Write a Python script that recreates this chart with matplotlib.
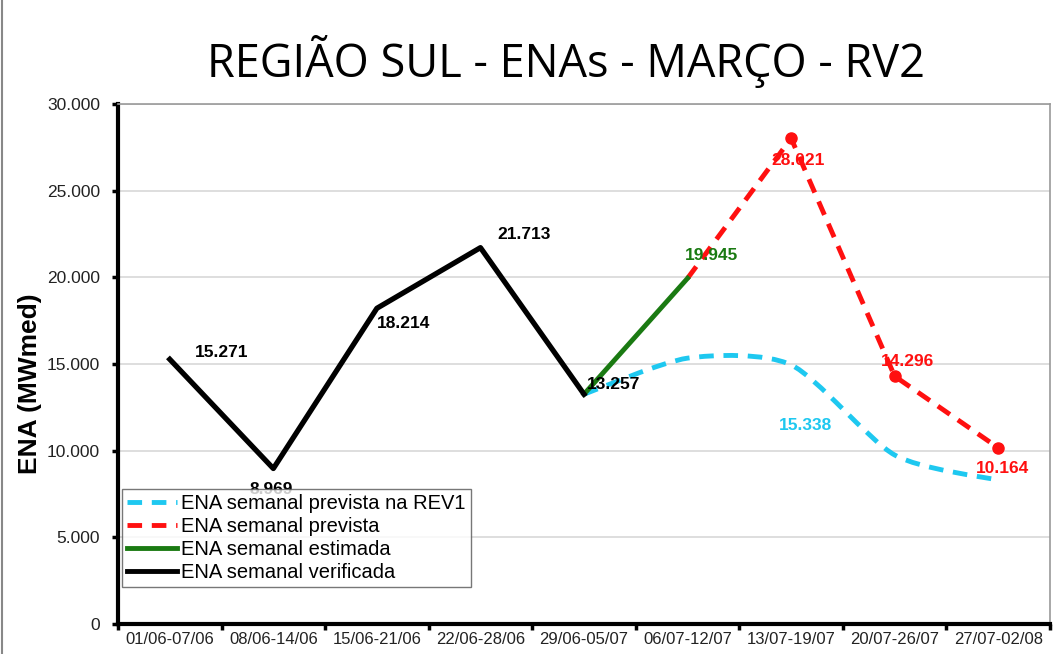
import numpy as np
import matplotlib
matplotlib.use("Agg")
import matplotlib.pyplot as plt
from matplotlib.path import Path
from matplotlib.patches import PathPatch
from matplotlib.lines import Line2D
from matplotlib.ticker import FuncFormatter

weeks = ["01/06-07/06", "08/06-14/06", "15/06-21/06", "22/06-28/06", "29/06-05/07",
         "06/07-12/07", "13/07-19/07", "20/07-26/07", "27/07-02/08"]

# verified (black), estimated (green), forecast (red), REV1 forecast (cyan)
verificada = [15271, 8969, 18214, 21713, 13257]
estimada = [13257, 19945]
prevista = [19945, 28021, 14296, 10164]
prevista_rev1 = [13257, 15338, 14950, 9750, 8300]

title = "REGIÃO SUL - ENAs - MARÇO - RV2"
ylabel = "ENA (MWmed)"

plt.rcParams['font.family'] = ['Liberation Sans', 'DejaVu Sans']

fig = plt.figure(figsize=(10.54, 6.54), dpi=100)
ax = fig.add_axes([118 / 1054, 30 / 654, 932 / 1054, 520 / 654])

x = np.arange(len(weeks))
x_ver = x[:5]
x_est = x[4:6]
x_prev = x[5:9]
x_rev1 = x[4:9]


def smooth_path(xs, ys, k=8.0):
    # Excel-like smoothed line: cubic bezier through the points
    pts = list(zip(xs, ys))
    verts = [pts[0]]
    codes = [Path.MOVETO]
    n = len(pts)
    for i in range(n - 1):
        p0 = pts[i - 1] if i > 0 else pts[i]
        p1 = pts[i]
        p2 = pts[i + 1]
        p3 = pts[i + 2] if i + 2 < n else pts[i + 1]
        c1 = (p1[0] + (p2[0] - p0[0]) / k, p1[1] + (p2[1] - p0[1]) / k)
        c2 = (p2[0] - (p3[0] - p1[0]) / k, p2[1] - (p3[1] - p1[1]) / k)
        verts += [c1, c2, p2]
        codes += [Path.CURVE4] * 3
    return Path(verts, codes)


cyan = "#1ec8f0"
red = "#ff1010"
green = "#1a7a12"

ax.add_patch(PathPatch(smooth_path(x_rev1, prevista_rev1), fill=False, edgecolor=cyan,
                       lw=3.5, linestyle=(0, (3, 2)), capstyle='butt', zorder=3))
ax.plot(x_prev, prevista, color=red, lw=3.5, linestyle=(0, (3, 2)), zorder=4)
ax.plot(x_prev[1:], prevista[1:], 'o', color=red, ms=8, zorder=5)
ax.plot(x_est, estimada, color=green, lw=3.5, zorder=4)
ax.plot(x_ver, verificada, color='black', lw=3.8, zorder=4)


def fmt(v):
    return f"{v:,}".replace(",", ".")


lab = dict(fontsize=12.5, fontweight='bold', zorder=6)
ax.annotate(fmt(verificada[0]), (x_ver[0], verificada[0]), xytext=(18, 2), textcoords='offset points', ha='left', **lab)
ax.annotate(fmt(verificada[1]), (x_ver[1], verificada[1]), xytext=(-17, -18), textcoords='offset points', ha='left', **lab)
ax.annotate(fmt(verificada[2]), (x_ver[2], verificada[2]), xytext=(0, -14), textcoords='offset points', ha='left', **lab)
ax.annotate(fmt(verificada[3]), (x_ver[3], verificada[3]), xytext=(12, 6), textcoords='offset points', ha='left', **lab)
ax.annotate(fmt(verificada[4]), (x_ver[4], verificada[4]), xytext=(2, 4), textcoords='offset points', ha='left', **lab)
ax.annotate(fmt(estimada[1]), (x_est[1], estimada[1]), xytext=(-2, 13), textcoords='offset points', ha='left', color=green, **lab)
ax.annotate(fmt(prevista[1]), (x_prev[1], prevista[1]), xytext=(-14, -19), textcoords='offset points', ha='left', color=red, **lab)
ax.annotate(fmt(prevista[2]), (x_prev[2], prevista[2]), xytext=(-10, 7), textcoords='offset points', ha='left', color=red, **lab)
ax.annotate(fmt(prevista[3]), (x_prev[3], prevista[3]), xytext=(-16, -18), textcoords='offset points', ha='left', color=red, **lab)
ax.annotate(fmt(prevista_rev1[1]), (x_rev1[2], prevista_rev1[2]), xytext=(-9, -47), textcoords='offset points', ha='left', color=cyan, **lab)

ax.set_xlim(-0.5, len(weeks) - 0.5)
ax.set_ylim(0, 30000)
ax.set_yticks(np.arange(0, 30001, 5000))
ax.yaxis.set_major_formatter(FuncFormatter(lambda v, p: "0" if v == 0 else fmt(int(v))))
ax.set_xticks(np.arange(len(weeks) + 1) - 0.5, minor=False)
ax.set_xticklabels([])
ax.set_xticks(x, minor=True)
ax.set_xticklabels(weeks, minor=True)
ax.tick_params(axis='x', which='minor', length=0, labelsize=12, pad=6)
ax.tick_params(axis='x', which='major', length=4, width=2.5, direction='out')
ax.tick_params(axis='y', length=4, width=2.5, labelsize=12.5, pad=9)
ax.tick_params(axis='both', which='both', labelcolor='#222222')
ax.grid(axis='y', color='#d8d8d8', lw=1.2)
ax.set_axisbelow(True)

for s in ['left', 'bottom']:
    ax.spines[s].set_linewidth(3)
    ax.spines[s].set_color('black')
for s in ['top', 'right']:
    ax.spines[s].set_linewidth(1.2)
    ax.spines[s].set_color('#999999')

ax.set_ylabel(ylabel, fontsize=19, fontweight='bold')
ax.yaxis.set_label_coords(-0.082, 0.463)

handles = [
    Line2D([], [], color=cyan, lw=3.5, linestyle=(0, (3, 2))),
    Line2D([], [], color=red, lw=3.5, linestyle=(0, (3, 2))),
    Line2D([], [], color=green, lw=3.5),
    Line2D([], [], color='black', lw=3.5),
]
labels = ["ENA semanal prevista na REV1", "ENA semanal prevista",
          "ENA semanal estimada", "ENA semanal verificada"]
leg = ax.legend(handles, labels, loc='lower left', bbox_to_anchor=(0.004, 0.071),
                fontsize=14.5, frameon=True, fancybox=False, borderpad=0.25,
                labelspacing=0.2, handlelength=2.5, handletextpad=0.2,
                borderaxespad=0)
leg.get_frame().set_edgecolor('#555555')
leg.get_frame().set_linewidth(1)
leg.set_zorder(7)

fig.text(566 / 1054, 1 - 62 / 654, title, fontsize=32.5, family=['Open Sans', 'DejaVu Sans'],
         ha='center', va='center')
fig.add_artist(Line2D([2 / 1054, 2 / 1054], [0, 1], color='#888888', lw=1.5))

fig.savefig("out.png", dpi=100)
